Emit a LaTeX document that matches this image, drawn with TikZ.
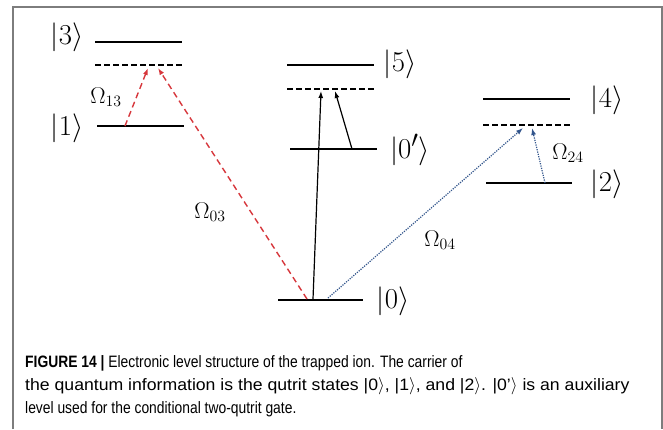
\documentclass[tikz,border=0pt]{standalone}
\usepackage{graphicx}
\usepackage{fontspec}
\newfontfamily\capfont[FakeStretch=0.84]{Liberation Sans}
\newfontfamily\capbold[FakeStretch=0.84]{Liberation Sans Bold}
\newfontfamily\capwide[FakeStretch=1.07]{Liberation Sans}
\usetikzlibrary{arrows.meta}
\definecolor{framegray}{RGB}{125,125,125}
\definecolor{redarrow}{RGB}{215,55,60}
\definecolor{bluearrow}{RGB}{50,85,140}
\newcommand{\ketlabel}[1]{\scalebox{1.16}{$#1$}}
\newcommand{\rabilabel}[1]{\scalebox{1.1}{$#1$}}
\tikzset{
  level/.style={line width=2.6pt},
  virtual/.style={line width=2.4pt, dash pattern=on 6pt off 3pt},
  ket/.style={font=\fontsize{24.88}{25}\selectfont, inner sep=0pt},
  rabi/.style={font=\fontsize{20.74}{21}\selectfont, inner sep=0pt},
  redtr/.style={redarrow, line width=1.4pt, dash pattern=on 6pt off 4pt, -{Latex[length=7pt,width=5pt]}},
  bluetr/.style={bluearrow, line width=1.2pt, dash pattern=on 1.2pt off 1.2pt, -{Latex[length=7pt,width=5pt]}},
  blacktr/.style={black, line width=1.2pt, -{Latex[length=7pt,width=5pt]}},
  captext/.style={font=\capfont\fontsize{16.5}{16.5}\selectfont, anchor=base west, inner sep=0pt},
  capwidetext/.style={font=\capwide\fontsize{16.5}{16.5}\selectfont, anchor=base west, inner sep=0pt}
}
\begin{document}
\begin{tikzpicture}[x=1pt,y=-1pt]
\useasboundingbox (0,0) rectangle (663,429);
\fill[white] (0,0) rectangle (663,429);
% frame
\draw[framegray, line width=1.6pt] (13,429) -- (13,7) -- (662,7) -- (662,429);

% levels
\draw[level] (95,42) -- (182,42);
\draw[virtual] (95,65) -- (182,65);
\draw[level] (97,126) -- (184,126);
\draw[level] (287,65) -- (374,65);
\draw[virtual] (287,89) -- (374,89);
\draw[level] (290,149) -- (377,149);
\draw[level] (278,300) -- (363,300);
\draw[level] (483,99) -- (570,99);
\draw[virtual] (483,125) -- (570,125);
\draw[level] (486,183) -- (572,183);

% ket labels
\node[ket] (k3) at (67,37) {\ketlabel{|3\rangle}};
\node[ket] (k1) at (67,128) {\ketlabel{|1\rangle}};
\node[ket] (k5) at (400,64) {\ketlabel{|5\rangle}};
\node[ket] (k0p) at (410,150) {\ketlabel{|0'\rangle}};
\node[ket] (k0) at (393,301) {\ketlabel{|0\rangle}};
\node[ket] (k4) at (607,100) {\ketlabel{|4\rangle}};
\node[ket] (k2) at (607,184) {\ketlabel{|2\rangle}};

% arrow end points
\coordinate (s1) at (125,126);
\coordinate (t13) at (148,68);
\coordinate (s0r) at (307,299);
\coordinate (t03) at (158,68);
\coordinate (s0k) at (313,299);
\coordinate (t05) at (321,91);
\coordinate (s0p) at (352,149);
\coordinate (t0p5) at (335,91);
\coordinate (s0b) at (328,298);
\coordinate (t04) at (523,128);
\coordinate (s2) at (545,183);
\coordinate (t24) at (532,128);

% transitions
\draw[redtr] (s1) -- (t13);
\draw[redtr] (s0r) -- (t03);
\draw[blacktr] (s0k) -- (t05);
\draw[blacktr] (s0p) -- (t0p5);
\draw[bluetr] (s0b) -- (t04);
\draw[bluetr] (s2) -- (t24);

% Rabi labels
\node[rabi] (o13) at (106,97) {\rabilabel{\Omega_{13}}};
\node[rabi] (o03) at (210,212) {\rabilabel{\Omega_{03}}};
\node[rabi] (o04) at (440,240) {\rabilabel{\Omega_{04}}};
\node[rabi] (o24) at (568,153) {\rabilabel{\Omega_{24}}};

% caption
\node[captext] (c1) at (25,367) {{\capbold FIGURE 14 |} Electronic level structure of the trapped ion. The carrier of};
\node[capwidetext] (c2) at (25,390) {the quantum information is the qutrit states |0\(\rangle\), |1\(\rangle\), and |2\(\rangle\). |0’\(\rangle\) is an auxiliary};
\node[captext] (c3) at (25,413) {level used for the conditional two-qutrit gate.};
\end{tikzpicture}
\end{document}
